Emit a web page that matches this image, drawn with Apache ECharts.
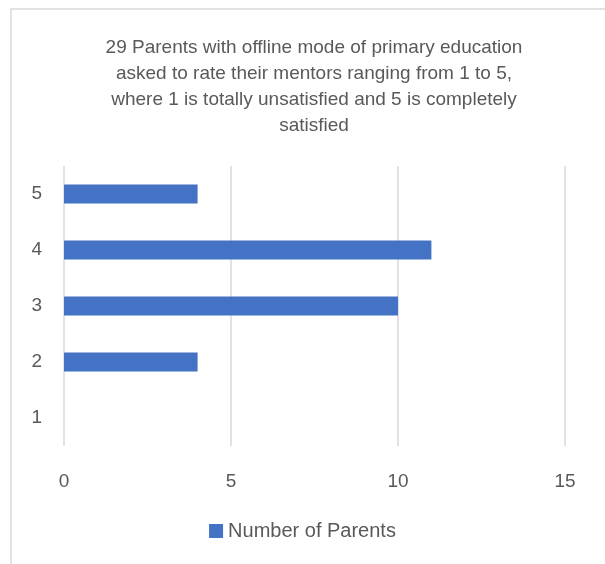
<!DOCTYPE html>
<html>
<head>
<meta charset="utf-8">
<script src="https://cdn.jsdelivr.net/npm/echarts@6/dist/echarts.min.js"></script>
<style>
  html, body { margin: 0; padding: 0; background: #fff; }
  #chart { width: 605px; height: 564px; }
</style>
</head>
<body>
<div id="chart"></div>
<script>
// ratings on y axis, bottom to top
const ratings = ['1', '2', '3', '4', '5'];
const parents = [0, 4, 10, 11, 4];
const seriesName = 'Number of Parents';
const titleText = '29 Parents with offline mode of primary education\nasked to rate their mentors ranging from 1 to 5,\nwhere 1 is totally unsatisfied and 5 is completely\nsatisfied';

const chart = echarts.init(document.getElementById('chart'));
const font = 'Liberation Sans';

chart.setOption({
  animation: false,
  graphic: [{
    type: 'rect',
    shape: { x: 11, y: 9, width: 700, height: 700 },
    style: { fill: 'none', stroke: '#d9d9d9', lineWidth: 1.5 },
    silent: true
  }],
  title: {
    text: titleText,
    left: 309,
    textAlign: 'center',
    top: 30,
    textStyle: {
      fontFamily: font,
      fontSize: 19,
      fontWeight: 'normal',
      color: '#595959',
      lineHeight: 26
    }
  },
  legend: {
    bottom: 18,
    left: 'center',
    data: [seriesName],
    icon: 'rect',
    itemWidth: 14,
    itemHeight: 14,
    itemGap: 4,
    textStyle: { fontFamily: font, fontSize: 20, color: '#595959' }
  },
  grid: { left: 64, right: 40, top: 166, bottom: 118, containLabel: false },
  xAxis: {
    type: 'value',
    min: 0,
    max: 15,
    interval: 5,
    axisLine: { show: false },
    axisTick: { show: false },
    splitLine: { lineStyle: { color: '#d9d9d9', width: 1.5 } },
    axisLabel: { fontFamily: font, fontSize: 19, color: '#595959', margin: 26 }
  },
  yAxis: {
    type: 'category',
    data: ratings,
    axisLine: { show: false },
    axisTick: { show: false },
    axisLabel: { fontFamily: font, fontSize: 19, color: '#595959', margin: 22 }
  },
  series: [{
    name: seriesName,
    type: 'bar',
    data: parents,
    barWidth: 19,
    itemStyle: { color: '#4472c4' }
  }]
});
</script>
</body>
</html>
